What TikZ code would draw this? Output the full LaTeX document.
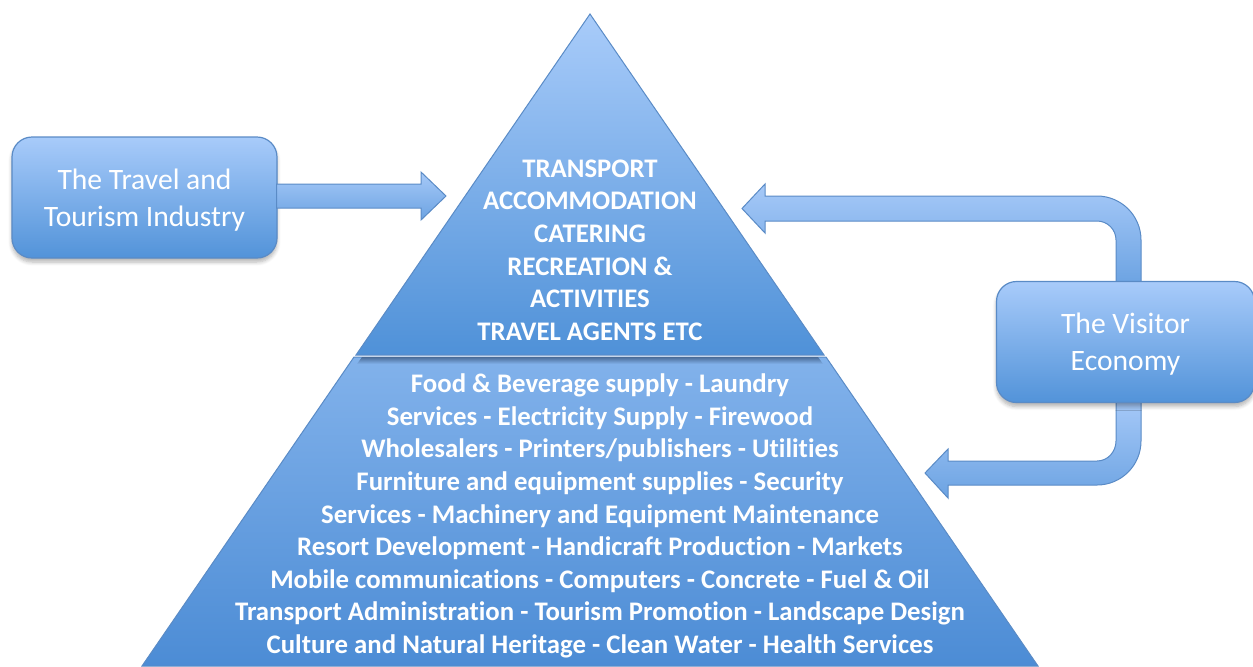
\documentclass[tikz,border=0pt]{standalone}
\usepackage{fontspec}
\setmainfont{Carlito}[Ligatures=NoCommon]
\usetikzlibrary{calc,shadows.blur}
\definecolor{boxtop}{HTML}{A8CBFA}
\definecolor{boxbottom}{HTML}{5293D9}
\definecolor{edgeblue}{HTML}{5A8BC6}
\definecolor{pyrtop}{HTML}{A9CCFA}
\definecolor{pyrmid}{HTML}{4F91D8}
\definecolor{basetop}{HTML}{82B2EB}
\definecolor{basebottom}{HTML}{4C8CD5}
\definecolor{arrowtop}{HTML}{A6C9F8}
\definecolor{arrowbottom}{HTML}{6CA3E2}
\definecolor{divshade}{HTML}{4A6C98}
\tikzset{
    sidebox/.style = {
        rectangle,
        rounded corners=10pt,
        draw=edgeblue,
        line width=0.6pt,
        top color=boxtop,
        bottom color=boxbottom,
        minimum width=132.5pt,
        minimum height=60.5pt,
        align=center,
        text=white,
        text depth=0pt,
        font=\fontsize{14.8}{18.5}\selectfont,
        blur shadow={shadow xshift=0pt, shadow yshift=-2pt, shadow opacity=30, shadow blur steps=6}
    },
    layer/.style = {
        draw=edgeblue,
        line width=0.5pt
    },
    layertext/.style = {
        align=center,
        text=white,
        font=\bfseries\fontsize{13.4}{16.3}\selectfont
    },
    blockarrow/.style = {
        draw=edgeblue,
        line width=0.5pt,
        top color=arrowtop,
        bottom color=arrowbottom
    }
}

\begin{document}
\begin{tikzpicture}[x=0.5pt,y=-0.5pt]
\useasboundingbox (0,0) rectangle (1253,666);

% pyramid
\path[layer, top color=basetop, bottom color=basebottom]
    (354,357) -- (142,666) -- (1038,666) -- (826,357) -- cycle;
\shade[top color=divshade, bottom color=basetop]
    (362,357) -- (818,357) -- (823,364) -- (357,364) -- cycle;
\path[layer, top color=pyrtop, bottom color=pyrmid]
    (590,14) -- (356,355) -- (824,355) -- cycle;

\node[layertext] (core) at (590,250) {TRANSPORT\\ACCOMMODATION\\CATERING\\RECREATION \&\\ACTIVITIES\\TRAVEL AGENTS ETC};
\node[layertext] (supply) at (600,516) {Food \& Beverage supply - Laundry\\
    Services - Electricity Supply - Firewood\\
    Wholesalers - Printers/publishers - Utilities\\
    Furniture and equipment supplies - Security\\
    Services - Machinery and Equipment Maintenance\\
    Resort Development - Handicraft Production - Markets\\
    Mobile communications - Computers - Concrete - Fuel \& Oil\\
    Transport Administration - Tourism Promotion - Landscape Design\\
    Culture and Natural Heritage - Clean Water - Health Services};

% arrow ends at the pyramid
\coordinate (inA) at (446,196);
\coordinate (inB) at (742,208.5);
\coordinate (inC) at (925,473);

\node[sidebox] (travel) at (144.5,197.5) {The Travel and\\Tourism Industry};

% visitor economy loops
\path[blockarrow] (inB) -- ++(23,-24.5) -- ++(0,12) -- (1097,196)
    .. controls (1121.3,196) and (1141,215.7) .. (1141,240)
    -- ($(1141,0)!(1124.5,284)!(1141,10)$) -- ($(1116,0)!(1124.5,284)!(1116,10)$)
    -- (1116,240) .. controls (1116,229.5) and (1107.5,221) .. (1097,221)
    -- ($(inB)+(23,12.5)$) -- ++(0,12) -- cycle;
\path[blockarrow] ($(1116,0)!(1124.5,400)!(1116,10)$) -- ($(1141,0)!(1124.5,400)!(1141,10)$)
    -- (1141,441) .. controls (1141,465.3) and (1121.3,485) .. (1097,485)
    -- ($(inC)+(23,12)$) -- ++(0,13) -- (inC) -- ++(23,-24) -- ++(0,12)
    -- (1097,461) .. controls (1108,461) and (1116,451.5) .. (1116,441) -- cycle;

\node[sidebox, minimum width=129pt] (visitor) at (1125.5,342) {The Visitor\\Economy};

% industry into the pyramid
\path[blockarrow] ($(travel.east |- inA)+(-1,-12)$) -- ($(inA)+(-25,-12)$) -- ($(inA)+(-25,-24)$)
    -- (inA) -- ($(inA)+(-25,24)$) -- ($(inA)+(-25,12)$) -- ($(travel.east |- inA)+(-1,12)$) -- cycle;
\end{tikzpicture}
\end{document}
